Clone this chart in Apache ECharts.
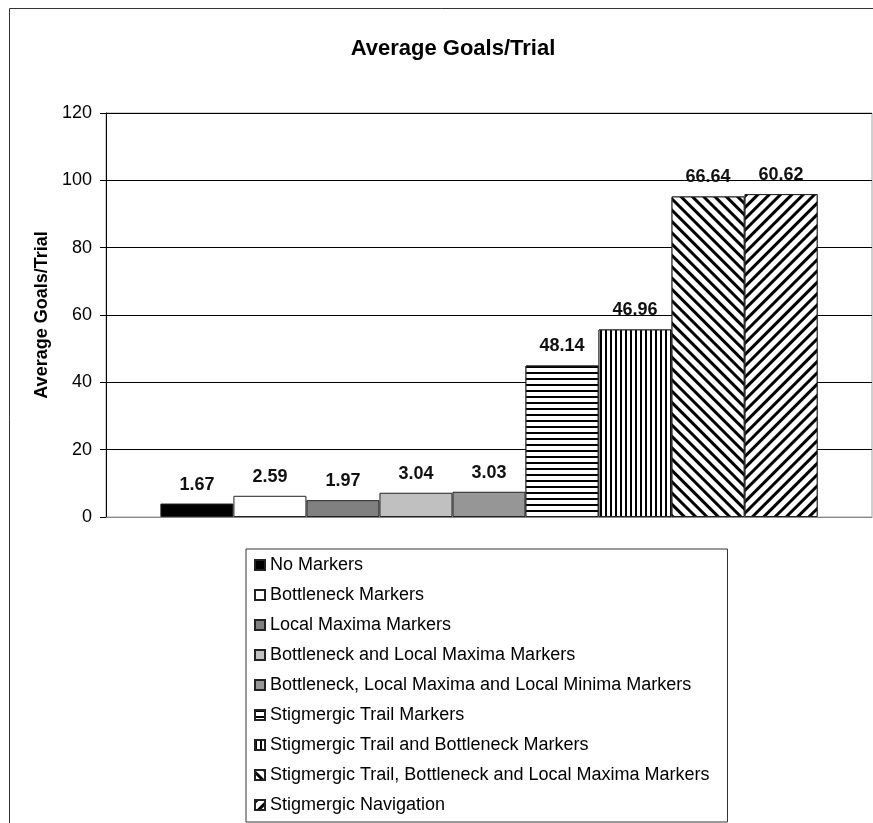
<!DOCTYPE html>
<html>
<head>
<meta charset="utf-8">
<title>Average Goals/Trial</title>
<script src="https://cdn.jsdelivr.net/npm/echarts@6/dist/echarts.min.js"></script>
<style>
  html, body { margin: 0; padding: 0; background: #fff; }
  #chart { width: 873px; height: 823px; }
</style>
</head>
<body>
<div id="chart"></div>
<script>
// series names (legend order)
const seriesNames = [
  'No Markers',
  'Bottleneck Markers',
  'Local Maxima Markers',
  'Bottleneck and Local Maxima Markers',
  'Bottleneck, Local Maxima and Local Minima Markers',
  'Stigmergic Trail Markers',
  'Stigmergic Trail and Bottleneck Markers',
  'Stigmergic Trail, Bottleneck and Local Maxima Markers',
  'Stigmergic Navigation'
];
// bar heights
const barValues = [4.0, 6.3, 5.0, 7.2, 7.5, 45.0, 55.7, 95.2, 95.9];
// the numbers printed above each bar
const barLabels = ['1.67', '2.59', '1.97', '3.04', '3.03', '48.14', '46.96', '66.64', '60.62'];
const yTicks = [0, 20, 40, 60, 80, 100, 120];

const FONT = 'Liberation Sans, Arial, sans-serif';
const fills = ['#000000', '#ffffff', '#808080', '#c0c0c0', '#969696', '#ffffff', '#ffffff', '#ffffff', '#ffffff'];
const decals = [
  null, null, null, null, null,
  { symbol: 'rect', symbolSize: 1, dashArrayX: [1, 0], dashArrayY: [1.5, 3.5], color: '#000', backgroundColor: '#fff' },
  { symbol: 'rect', symbolSize: 1, dashArrayX: [1.5, 2.8], dashArrayY: [1, 0], color: '#000', backgroundColor: '#fff' },
  { symbol: 'rect', symbolSize: 1, dashArrayX: [1, 0], dashArrayY: [2.5, 4.5], rotation: Math.PI / 4, color: '#000', backgroundColor: '#fff' },
  { symbol: 'rect', symbolSize: 1, dashArrayX: [1, 0], dashArrayY: [2.5, 4.5], rotation: -Math.PI / 4, color: '#000', backgroundColor: '#fff' }
];

const chart = echarts.init(document.getElementById('chart'));

const series = seriesNames.map((name, i) => {
  const itemStyle = {
    color: fills[i],
    borderColor: '#222',
    borderWidth: 1
  };
  if (decals[i]) itemStyle.decal = decals[i];
  return {
    name: name,
    type: 'bar',
    data: [barValues[i]],
    barGap: '0%',
    barCategoryGap: '14.2%',
    itemStyle: itemStyle,
    label: {
      show: true,
      position: 'top',
      distance: 10,
      color: '#111',
      fontFamily: FONT,
      fontWeight: 'bold',
      fontSize: 18,
      formatter: () => barLabels[i]
    }
  };
});

const option = {
  animation: false,
  backgroundColor: '#fff',
  title: {
    text: 'Average Goals/Trial',
    left: 448,
    textAlign: 'center',
    top: 33,
    textStyle: {
      fontFamily: FONT,
      fontWeight: 'bold',
      fontSize: 22,
      color: '#000'
    }
  },
  graphic: [
    {
      type: 'rect',
      shape: { x: 9.5, y: 8.5, width: 900, height: 900 },
      style: { fill: 'none', stroke: '#333', lineWidth: 1 },
      silent: true,
      z: -10
    }
  ],
  legend: {
    orient: 'vertical',
    left: 246,
    top: 549,
    padding: [7, 18, 8, 8],
    itemGap: 12,
    itemWidth: 10,
    itemHeight: 10,
    icon: 'rect',
    borderColor: '#333',
    borderWidth: 1,
    data: seriesNames,
    textStyle: {
      fontFamily: FONT,
      fontSize: 18,
      color: '#000'
    }
  },
  grid: {
    left: 106,
    right: 1,
    top: 113,
    bottom: 306,
    show: true,
    borderColor: '#a0a0a0',
    borderWidth: 1
  },
  xAxis: {
    type: 'category',
    data: [''],
    axisLine: { lineStyle: { color: '#888', width: 1 } },
    axisTick: { show: false },
    axisLabel: { show: false }
  },
  yAxis: {
    type: 'value',
    min: yTicks[0],
    max: yTicks[yTicks.length - 1],
    interval: yTicks[1] - yTicks[0],
    name: 'Average Goals/Trial',
    nameLocation: 'middle',
    nameGap: 55,
    nameTextStyle: {
      fontFamily: FONT,
      fontWeight: 'bold',
      fontSize: 18,
      color: '#000'
    },
    axisLine: { show: true, lineStyle: { color: '#000', width: 1 } },
    axisTick: { show: true, inside: false, length: 6, lineStyle: { color: '#000' } },
    axisLabel: {
      margin: 14,
      fontFamily: FONT,
      fontSize: 18,
      color: '#000'
    },
    splitLine: { show: true, lineStyle: { color: '#000', width: 1 } }
  },
  series: series
};

chart.setOption(option);
</script>
</body>
</html>
